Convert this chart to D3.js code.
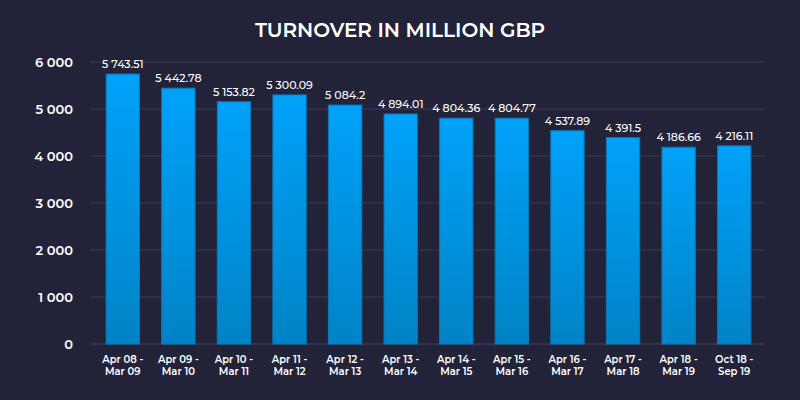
<!DOCTYPE html>
<html><head><meta charset="utf-8">
<script src="https://cdn.jsdelivr.net/npm/d3@7"></script>
<style>
html,body{margin:0;padding:0;background:#222339;}
svg{display:block;font-family:"Montserrat","Open Sans","Noto Sans",sans-serif;}
</style></head>
<body><svg id="c" width="800" height="400"></svg>
<script>
const title = "TURNOVER IN MILLION GBP";
const categories = [["Apr 08 -","Mar 09"],["Apr 09 -","Mar 10"],["Apr 10 -","Mar 11"],["Apr 11 -","Mar 12"],["Apr 12 -","Mar 13"],["Apr 13 -","Mar 14"],["Apr 14 -","Mar 15"],["Apr 15 -","Mar 16"],["Apr 16 -","Mar 17"],["Apr 17 -","Mar 18"],["Apr 18 -","Mar 19"],["Oct 18 -","Sep 19"]];
const values = [5743.51,5442.78,5153.82,5300.09,5084.2,4894.01,4804.36,4804.77,4537.89,4391.5,4186.66,4216.11];
const yTicks = [0,1000,2000,3000,4000,5000,6000];

const svg = d3.select("#c");
const m = {left:90, right:35, top:62, bottom:56};
const W = 800, H = 400;
const x = d3.scaleBand().domain(d3.range(categories.length)).range([95, 762]).paddingInner(0.4).paddingOuter(0.2);
const y = d3.scaleLinear().domain([0,6000]).range([H-m.bottom, m.top]);

const fmt = v => {
  const parts = String(v).split(".");
  const int = parts[0].replace(/\B(?=(\d{3})+(?!\d))/g, " ");
  return parts.length>1 ? int+"."+parts[1] : int;
};

const defs = svg.append("defs");
const g = defs.append("linearGradient").attr("id","bg").attr("x1",0).attr("y1",0).attr("x2",0).attr("y2",1);
g.append("stop").attr("offset","0%").attr("stop-color","#00a2fa");
g.append("stop").attr("offset","100%").attr("stop-color","#0083c6");

svg.append("text").attr("x",400).attr("y",37).attr("text-anchor","middle")
  .attr("fill","#ffffff").attr("font-size",20).attr("font-weight",600).text(title);

// grid
svg.append("g").selectAll("line").data(yTicks).join("line")
  .attr("x1",m.left).attr("x2",W-m.right)
  .attr("y1",d=>y(d)).attr("y2",d=>y(d))
  .attr("stroke",d=>d===0?"#45475e":"#3b3d54").attr("stroke-width",1);

// y labels
svg.append("g").selectAll("text").data(yTicks).join("text")
  .attr("x",73).attr("y",d=>y(d)+5).attr("text-anchor","end")
  .attr("fill","#ffffff").attr("font-size",13).attr("font-weight",600)
  .text(d=>fmt(d));

// bars
svg.append("g").selectAll("rect").data(values).join("rect")
  .attr("x",(d,i)=>x(i)).attr("width",x.bandwidth())
  .attr("y",d=>y(d)).attr("height",d=>y(0)-y(d))
  .attr("fill","url(#bg)").attr("stroke","#0a78b8").attr("stroke-width",1);

// value labels
svg.append("g").selectAll("text").data(values).join("text")
  .attr("x",(d,i)=>x(i)+x.bandwidth()/2).attr("y",d=>y(d)-6)
  .attr("text-anchor","middle").attr("fill","#ffffff")
  .attr("font-size",11).attr("font-weight",500)
  .text(d=>fmt(d));

// x labels
const xl = svg.append("g").selectAll("text").data(categories).join("text")
  .attr("x",(d,i)=>x(i)+x.bandwidth()/2).attr("y",363)
  .attr("text-anchor","middle").attr("fill","#ffffff")
  .attr("font-size",10).attr("font-weight",600);
xl.append("tspan").attr("x",(d,i)=>x(i)+x.bandwidth()/2).attr("dy",0).text(d=>d[0]);
xl.append("tspan").attr("x",(d,i)=>x(i)+x.bandwidth()/2).attr("dy",12).text(d=>d[1]);
</script></body></html>
